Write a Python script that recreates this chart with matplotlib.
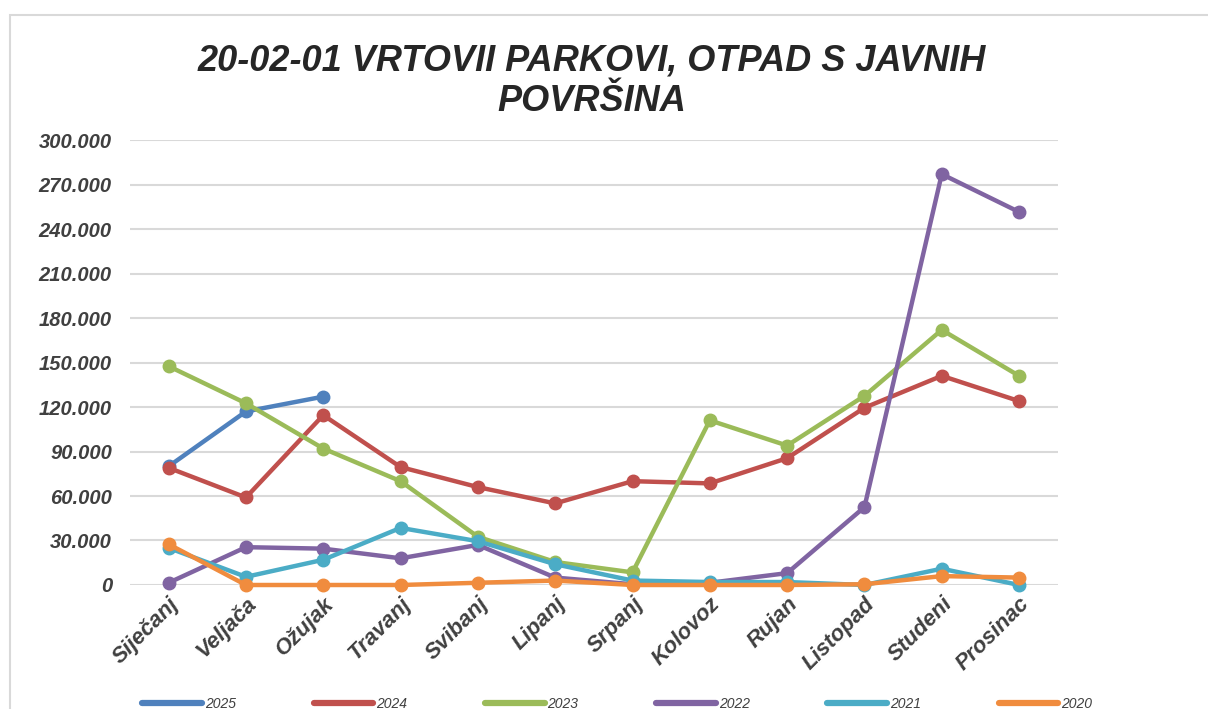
import matplotlib
matplotlib.use("Agg")
import matplotlib.pyplot as plt
from matplotlib.patches import Rectangle
from matplotlib.ticker import FuncFormatter, MultipleLocator

# values in thousands (axis shows 30.000 steps)
months = ["Siječanj", "Veljača", "Ožujak", "Travanj", "Svibanj", "Lipanj",
          "Srpanj", "Kolovoz", "Rujan", "Listopad", "Studeni", "Prosinac"]
y2025 = [80, 117, 127]
y2024 = [79, 59, 114.5, 79.5, 66, 55, 70, 68.5, 85.5, 119.5, 141, 124]
y2023 = [147.5, 122.5, 92, 70, 32.5, 15.5, 8.5, 111, 94, 127.5, 172, 141]
y2022 = [1.5, 25.5, 24.5, 18, 27, 5, 0.5, 1.5, 8, 52.5, 277, 251.5]
y2021 = [25, 5.5, 17, 38.5, 29.5, 14, 3, 2, 2, 0, 11, 0]
y2020 = [27.5, 0, 0, 0, 1.5, 3, 0, 0, 0, 0.5, 6, 5]

series = [("2025", y2025, "#4F81BD"), ("2024", y2024, "#C0504D"),
          ("2023", y2023, "#9BBB59"), ("2022", y2022, "#8064A2"),
          ("2021", y2021, "#4BACC6"), ("2020", y2020, "#F08C3E")]

plt.rcParams["font.family"] = ["Liberation Sans", "DejaVu Sans"]

fig = plt.figure(figsize=(12.08, 7.09), dpi=100)
ax = fig.add_axes([0.1076, 0.1749, 0.768, 0.6276])

# outer chart border (cut off at right/bottom like the screenshot)
fig.patches.append(Rectangle((10 / 1208, -0.05), 1.1, 1 - 15 / 709 + 0.05,
                             transform=fig.transFigure, fill=False,
                             edgecolor="#D9D9D9", lw=1.5))

handles = []
for name, vals, col in series:
    ln, = ax.plot(range(len(vals)), vals, color=col, lw=3.2, marker="o",
                  ms=9, clip_on=False, solid_capstyle="round", zorder=3)
    handles.append(ln)

ax.set_xlim(-0.5, 11.5)
ax.set_ylim(0, 300)
ax.yaxis.set_major_locator(MultipleLocator(30))
ax.yaxis.set_major_formatter(
    FuncFormatter(lambda v, p: f"{int(round(v * 1000)):,}".replace(",", ".")))
ax.grid(axis="y", color="#D9D9D9", lw=1.5, zorder=0)
ax.set_axisbelow(True)
for s in ax.spines.values():
    s.set_visible(False)
ax.tick_params(length=0)
ax.tick_params(axis="y", pad=13)
ax.tick_params(axis="x", pad=6)
ax.set_xticks(range(len(months)))
ax.set_xticklabels(months, rotation=45, ha="right", rotation_mode="anchor")
for lab in ax.get_yticklabels():
    lab.set_fontsize(14.5)
    lab.set_fontweight("bold")
    lab.set_fontstyle("italic")
    lab.set_color("#404040")
for lab in ax.get_xticklabels():
    lab.set_fontsize(16)
    lab.set_fontweight("bold")
    lab.set_fontstyle("italic")
    lab.set_color("#404040")

fig.text(0.49, 0.885, "20-02-01 VRTOVII PARKOVI, OTPAD S JAVNIH\nPOVRŠINA",
         ha="center", va="center", fontsize=26, fontweight="bold",
         fontstyle="italic", color="#262626", linespacing=1.2)

leg = fig.legend(handles, [s[0] for s in series], ncol=6,
                 loc="center", bbox_to_anchor=(0.511, 5 / 709), frameon=False,
                 handlelength=4.3, handletextpad=0.2, columnspacing=5.6,
                 prop={"size": 10, "style": "italic"})
for lh in leg.get_lines():
    lh.set_marker("")
    lh.set_linewidth(4.5)
for t in leg.get_texts():
    t.set_color("#404040")

fig.savefig("out.png", dpi=100)
